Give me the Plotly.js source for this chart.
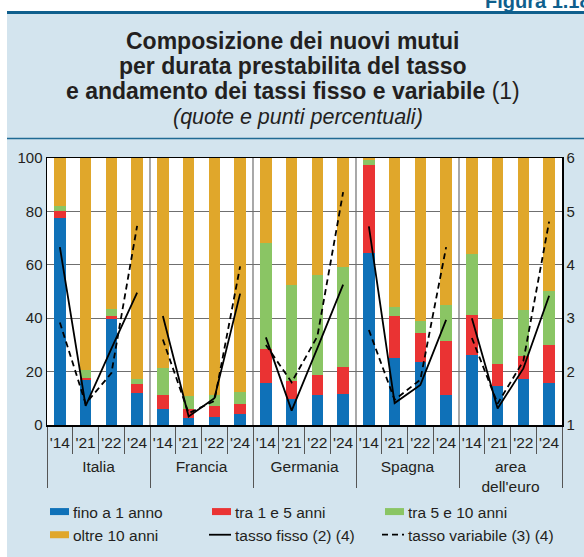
<!DOCTYPE html>
<html><head><meta charset="utf-8">
<script src="https://cdn.plot.ly/plotly-3.0.1.min.js"></script>
<style>
html,body{margin:0;padding:0;background:#fff;}
#chart{width:584px;height:557px;}
/* second-level (country) labels a little lower, as in the reference */
#chart g.xtick2 text{translate:0 8px;}
/* legend swatches: thin wide rectangles and shorter lines */
#chart g.legendpoints path[d="M6,6H-6V-6H6Z"]{d:path("M16,3.5H-3V-3.5H16Z");}
#chart g.legendlines path[d="M5,0h30"]{d:path("M14,0h22");}
</style>
</head><body><div id="chart"></div>
<script>
// ---- DATA ----
const countries = ['Italia', 'Francia', 'Germania', 'Spagna', "area<br>dell'euro"];
const years = ["'14", "'21", "'22", "'24"];
// shares (%) by initial rate fixation period, per country x year (4 years each)
const fino1anno = [77.5, 16.9, 39.6, 12.1,  6.0, 2.5, 3.1, 4.0,  15.75, 9.6, 11.4, 11.75,  64.6, 25.0, 23.75, 11.1,  26.4, 14.75, 17.25, 15.6];
const tra1e5    = [2.75, 0.85, 1.4, 3.3,    5.1, 3.6, 4.0, 3.75,  12.75, 7.0, 7.5, 10.15,   32.9, 16.0, 10.85, 20.5,  14.7, 8.15, 8.75, 14.3];
const tra5e10   = [1.85, 2.85, 2.4, 2.0,    10.3, 4.65, 4.15, 4.5, 39.6, 35.65, 37.2, 37.2, 1.6, 3.1, 4.3, 13.3,     22.8, 16.85, 17.0, 20.2];
const oltre10   = [17.9, 79.4, 56.6, 82.6,  78.6, 89.25, 88.75, 87.75, 31.9, 47.75, 43.9, 40.9, 0.9, 55.9, 61.1, 55.1, 36.1, 60.25, 57.0, 49.9];
// rates (percentage points), right axis
const tassoFisso     = [4.33, 1.36, 2.43, 3.48,  3.04, 1.16, 1.50, 3.46,  2.64, 1.27, 2.44, 3.63,  4.72, 1.41, 1.75, 2.97,  3.00, 1.31, 2.06, 3.42];
const tassoVariabile = [2.92, 1.40, 1.97, 4.73,  2.60, 1.22, 1.45, 3.97,  2.50, 1.80, 2.66, 5.36,  2.78, 1.47, 1.85, 4.33,  2.63, 1.40, 2.20, 4.81];
const yTicksLeft = [0, 20, 40, 60, 80, 100];
const yTicksRight = [1, 2, 3, 4, 5, 6];
const titleLines = ['<b>Composizione dei nuovi mutui</b>', '<b>per durata prestabilita del tasso</b>', '<b>e andamento dei tassi fisso e variabile</b> (1)'];
const subtitle = '<i>(quote e punti percentuali)</i>';

// ---- LAYOUT HELPERS ----
const W = 584, H = 557, L = 47, R = 22, T = 158, B = 132;
const px = x => (x - L) / (W - L - R);
const py = y => (H - B - y) / (H - T - B);

const xCountry = [], xYear = [];
countries.forEach(c => years.forEach(y => { xCountry.push(c); xYear.push(y); }));

const FONT = '"Liberation Sans", Arial, Helvetica, sans-serif';
const barSeries = [
  {name: 'fino a 1 anno', vals: fino1anno, color: '#0f71b8', legend: 'legend'},
  {name: 'tra 1 e 5 anni', vals: tra1e5, color: '#ea3333', legend: 'legend2'},
  {name: 'tra 5 e 10 anni', vals: tra5e10, color: '#8ac564', legend: 'legend3'},
  {name: 'oltre 10 anni', vals: oltre10, color: '#e0a72b', legend: 'legend'}
];
const traces = barSeries.map(s => ({
  type: 'bar', name: s.name, x: [xCountry, xYear], y: s.vals, legend: s.legend,
  marker: {color: s.color, line: {width: 0}}, hoverinfo: 'skip'
}));

function lineTraces(vals, name, dash, group, legend) {
  return countries.map((c, i) => ({
    type: 'scatter', mode: 'lines', name: name, legendgroup: group, showlegend: i === 0, legend: legend,
    x: [years.map(() => c), years], y: vals.slice(i * years.length, (i + 1) * years.length),
    yaxis: 'y2', line: {color: '#000', width: 1.8, dash: dash}, hoverinfo: 'skip'
  }));
}
traces.push(...lineTraces(tassoFisso, 'tasso fisso (2) (4)', 'solid', 'f', 'legend2'));
traces.push(...lineTraces(tassoVariabile, 'tasso variabile (3) (4)', '6px,4px', 'v', 'legend3'));

const nG = countries.length;
const shapes = [
  {type: 'rect', xref: 'paper', yref: 'paper', x0: px(0), x1: px(7), y0: py(0), y1: py(H), fillcolor: '#fff', line: {width: 0}, layer: 'below'},
  {type: 'rect', xref: 'paper', yref: 'paper', x0: px(0), x1: px(W), y0: py(0), y1: py(11), fillcolor: '#fff', line: {width: 0}, layer: 'below'},
  {type: 'line', xref: 'paper', yref: 'paper', x0: px(7), x1: px(W), y0: py(12.5), y1: py(12.5), line: {color: '#0f5f8d', width: 3}},
  {type: 'line', xref: 'paper', yref: 'paper', x0: px(7), x1: px(W), y0: py(138.5), y1: py(138.5), line: {color: '#1f6a94', width: 1.5}}
];
for (let g = 1; g < nG; g++) {
  shapes.push({type: 'line', xref: 'paper', yref: 'paper', x0: g / nG, x1: g / nG, y0: 0, y1: 1, line: {color: '#6f6f6f', width: 1.2}, layer: 'below'});
}

const titleY = [41, 66, 91];
const annotations = titleLines.map((t, i) => ({
  xref: 'paper', yref: 'paper', x: px(293), y: py(titleY[i]), xanchor: 'center', yanchor: 'middle', showarrow: false,
  text: t, font: {size: 23, family: FONT, color: '#231f20'}
}));
annotations.push({xref: 'paper', yref: 'paper', x: px(298), y: py(117), xanchor: 'center', yanchor: 'middle', showarrow: false,
  text: subtitle, font: {size: 21.5, family: FONT, color: '#231f20'}});
annotations.push({xref: 'paper', yref: 'paper', x: px(484), y: py(13), xanchor: 'left', yanchor: 'bottom', showarrow: false, borderpad: 0,
  text: '<b>Figura 1.18</b>', font: {size: 20, family: FONT, color: '#0f5f8d'}});

function legendAt(textX) {
  return {orientation: 'v', xref: 'container', yref: 'container', x: (textX - 40) / W, xanchor: 'left',
          y: 1 - 495 / H, yanchor: 'top', font: {size: 15.5, family: FONT, color: '#231f20'},
          bgcolor: 'rgba(0,0,0,0)', borderwidth: 0, traceorder: 'normal', tracegroupgap: 0};
}

const layout = {
  width: W, height: H,
  margin: {l: L, r: R, t: T, b: B, pad: 0, autoexpand: false},
  paper_bgcolor: '#d3e4ee', plot_bgcolor: '#fff',
  font: {family: FONT, color: '#231f20', size: 15},
  barmode: 'stack', bargap: 0.545,
  showlegend: true,
  legend: legendAt(73), legend2: legendAt(235), legend3: legendAt(408),
  xaxis: {type: 'multicategory', showdividers: true, dividercolor: '#555', dividerwidth: 1,
          tickson: 'boundaries', ticks: 'outside', ticklen: 27, tickcolor: '#555', tickwidth: 1,
          ticklabelstandoff: 3, tickangle: 0,
          tickfont: {size: 15.5, family: FONT, color: '#231f20'},
          showline: true, linecolor: '#000', linewidth: 1.5, mirror: true, showgrid: false, fixedrange: true},
  yaxis: {range: [0, 100], tickvals: yTicksLeft, ticks: '', showgrid: true, gridcolor: '#6f6f6f', gridwidth: 1,
          zeroline: false, showline: true, linecolor: '#000', linewidth: 1.5,
          tickfont: {size: 15, family: FONT, color: '#231f20'}, fixedrange: true},
  yaxis2: {range: [1, 6], tickvals: yTicksRight, overlaying: 'y', side: 'right', showgrid: false, zeroline: false,
           showline: true, linecolor: '#000', linewidth: 1.5, ticks: '',
           tickfont: {size: 15, family: FONT, color: '#231f20'}, fixedrange: true},
  shapes: shapes,
  annotations: annotations
};

Plotly.newPlot('chart', traces, layout, {displayModeBar: false, staticPlot: true});
</script>
</body></html>
